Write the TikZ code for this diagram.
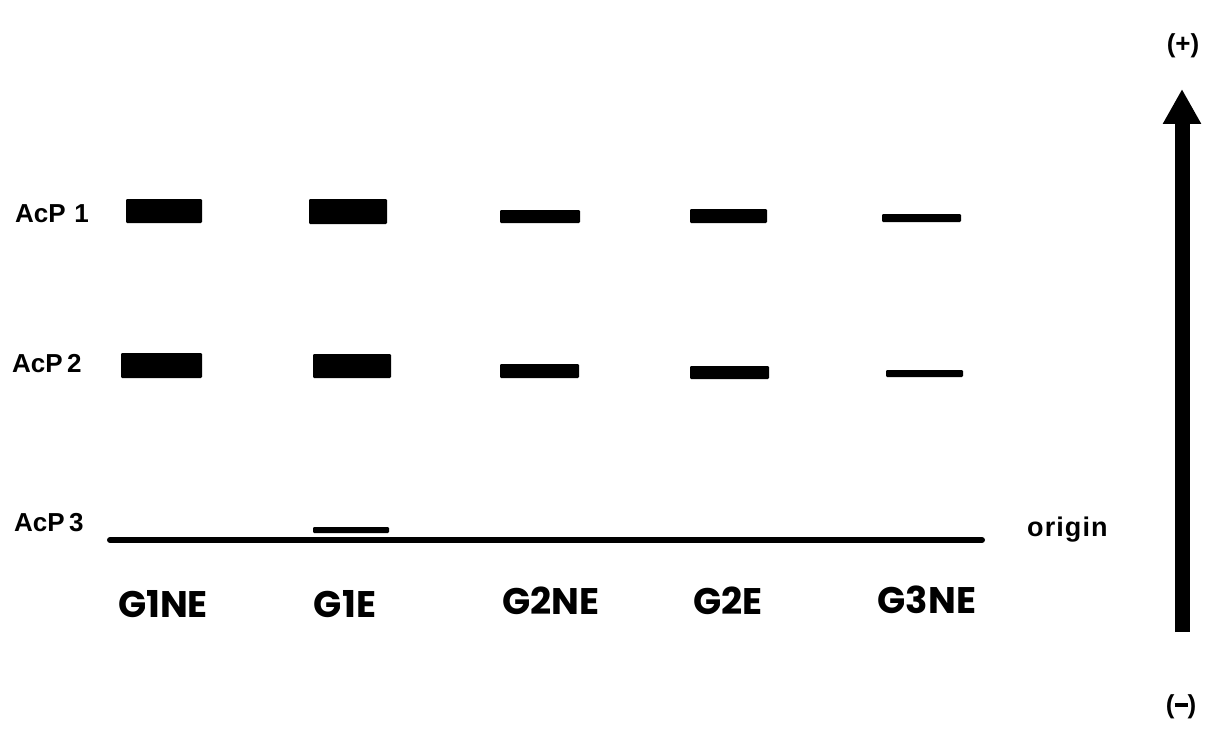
\documentclass[tikz,border=0pt]{standalone}
\usepackage{fontspec}
\setmainfont{Liberation Sans}
\newfontfamily\geo{Poppins}
\usetikzlibrary{arrows.meta}

\tikzset{
  band/.style={fill=black, draw=none, rounded corners=1.2pt, inner sep=0pt, outer sep=0pt},
  rowlabel/.style={font=\bfseries\fontsize{26}{26}\selectfont, anchor=base west, inner sep=0pt},
  lanelabel/.style={font=\geo\bfseries\fontsize{37}{37}\selectfont, anchor=base, inner sep=0pt},
  poslabel/.style={font=\bfseries\fontsize{26}{26}\selectfont, anchor=center, inner sep=0pt},
  originline/.style={line width=6pt, line cap=round},
  direction/.style={line width=15pt, -{Triangle[width=36pt,length=35pt]}}
}

\begin{document}
\begin{tikzpicture}[x=1pt, y=-1pt]
  \useasboundingbox (0,0) rectangle (1220,733);

  % row labels
  \node[rowlabel] (acp1) at (15,222) {AcP\,\,1};
  \node[rowlabel] (acp2) at (12,372) {AcP\,2};
  \node[rowlabel] (acp3) at (14,531) {AcP\,3};

  % AcP 1 bands
  \path[band] (126,199) rectangle (202,223);
  \path[band] (309,199) rectangle (387,224);
  \path[band] (500,210) rectangle (580,223);
  \path[band] (690,209) rectangle (767,223);
  \path[band] (882,214) rectangle (961,222);

  % AcP 2 bands
  \path[band] (121,353) rectangle (202,378);
  \path[band] (313,354) rectangle (391,378);
  \path[band] (500,364) rectangle (579,378);
  \path[band] (690,366) rectangle (769,379);
  \path[band] (886,370) rectangle (963,377);

  % AcP 3 band
  \path[band] (313,527) rectangle (389,533);

  % origin line
  \coordinate (o1) at (110,540);
  \coordinate (o2) at (982,540);
  \draw[originline] (o1) -- (o2);
  \node[font=\bfseries\fontsize{27}{27}\selectfont, anchor=base west, inner sep=0pt] (origin) at (1027,536) {o\kern0.04em r\kern0.04em i\kern0.04em g\kern0.04em i\kern0.04em n};

  % lane labels
  \node[lanelabel] (g1ne) at (163,617) {G1NE};
  \node[lanelabel] (g1e)  at (345,617) {G1E};
  \node[lanelabel] (g2ne) at (551,614) {G2NE};
  \node[lanelabel] (g2e)  at (728,614) {G2E};
  \node[lanelabel] (g3ne) at (927,613) {G3NE};

  % direction of migration
  \coordinate (abot) at (1182,632);
  \coordinate (atop) at (1182,89);
  \draw[direction] (abot) -- (atop);
  \node[poslabel] (plus)  at (1183,46)  {(+)};
  \node[poslabel] (minus) at (1181,707) {(\raisebox{0.27em}{\rule{0.5em}{0.13em}})};
\end{tikzpicture}
\end{document}
